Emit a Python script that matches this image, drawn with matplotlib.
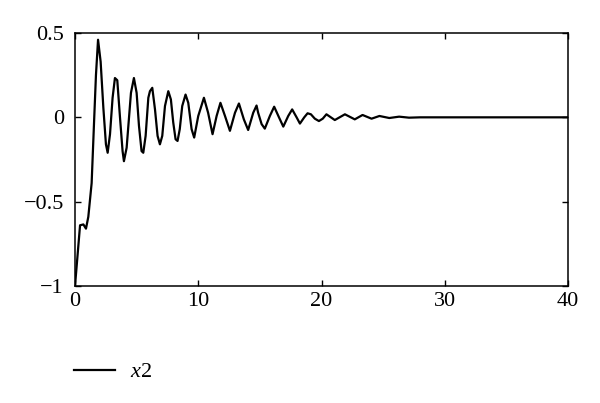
import matplotlib
matplotlib.use("Agg")
import matplotlib.pyplot as plt

t = [0, 0.41, 0.68, 0.89, 1.08, 1.35, 1.54, 1.70, 1.87, 2.08, 2.30, 2.51, 2.65, 2.84,
     3.05, 3.24, 3.43, 3.65, 3.86, 3.97, 4.19, 4.33, 4.54, 4.78, 5.0, 5.19, 5.4, 5.54,
     5.73, 5.95, 6.08, 6.27, 6.49, 6.7, 6.89, 7.08, 7.3, 7.57, 7.78, 7.97, 8.16, 8.32,
     8.5, 8.7, 8.97, 9.19, 9.46, 9.67, 10.0, 10.46, 10.8, 11.16, 11.49, 11.8, 12.17,
     12.57, 12.98, 13.3, 13.7, 14.05, 14.46, 14.73, 14.86, 15.14, 15.4, 15.81, 16.16,
     16.55, 16.9, 17.3, 17.62, 17.98, 18.25, 18.6, 18.87, 19.14, 19.46, 19.79, 20.1,
     20.4, 21.08, 21.9, 22.7, 23.33, 24.06, 24.7, 25.5, 26.3, 27.1, 28.0, 29.0, 40.0]
x2 = [-1.0, -0.64, -0.635, -0.66, -0.59, -0.39, -0.04, 0.25, 0.46, 0.33, 0.057, -0.16,
      -0.21, -0.10, 0.116, 0.233, 0.22, 0.0, -0.20, -0.26, -0.18, -0.05, 0.145, 0.233,
      0.145, -0.05, -0.20, -0.21, -0.11, 0.116, 0.155, 0.175, 0.047, -0.11, -0.16, -0.11,
      0.067, 0.155, 0.106, -0.03, -0.13, -0.14, -0.07, 0.067, 0.135, 0.086, -0.07, -0.12,
      0.008, 0.116, 0.027, -0.10, 0.008, 0.086, 0.008, -0.08, 0.027, 0.082, -0.012,
      -0.075, 0.027, 0.07, 0.027, -0.04, -0.067, 0.008, 0.063, 0.0, -0.055, 0.008, 0.047,
      0.0, -0.037, 0.0, 0.024, 0.018, -0.008, -0.022, -0.008, 0.018, -0.016, 0.018,
      -0.012, 0.014, -0.008, 0.008, -0.004, 0.004, -0.002, 0.0, 0.0, 0.0]

xticks = [0, 10, 20, 30, 40]
yticks = [-1, -0.5, 0, 0.5]
ytick_labels = ["\u22121", "\u22120.5", "0", "0.5"]
series_label = r"$x$2"

plt.rcParams["font.family"] = ["Liberation Serif", "DejaVu Serif"]
plt.rcParams["mathtext.fontset"] = "custom"
plt.rcParams["mathtext.rm"] = "Liberation Serif"
plt.rcParams["mathtext.it"] = "Liberation Serif:italic"

fig = plt.figure(figsize=(6, 4.03), dpi=100)
ax = fig.add_axes([75/600, 1-286/403, (568-75)/600, (286-33)/403])
ax.plot(t, x2, color="black", lw=1.6, label=series_label)
ax.set_xlim(0, 40)
ax.set_ylim(-1, 0.5)
ax.set_xticks(xticks)
ax.set_xticklabels([str(v) for v in xticks])
ax.set_yticks(yticks)
ax.set_yticklabels(ytick_labels)
ax.tick_params(direction="in", top=True, right=True, length=4, width=1,
               labelsize=16, colors="black")
ax.tick_params(axis="y", pad=8)
ax.tick_params(axis="x", pad=4)
for s in ax.spines.values():
    s.set_linewidth(1.1)

fs = 16
fspx = fs * 100 / 72
ax.legend(loc="center left", bbox_to_anchor=(74/600, 1-372/403),
          bbox_transform=fig.transFigure, frameon=False, fontsize=fs,
          handlelength=41/fspx, handletextpad=15/fspx, borderpad=0,
          borderaxespad=0)

fig.savefig("out.png", dpi=100)
